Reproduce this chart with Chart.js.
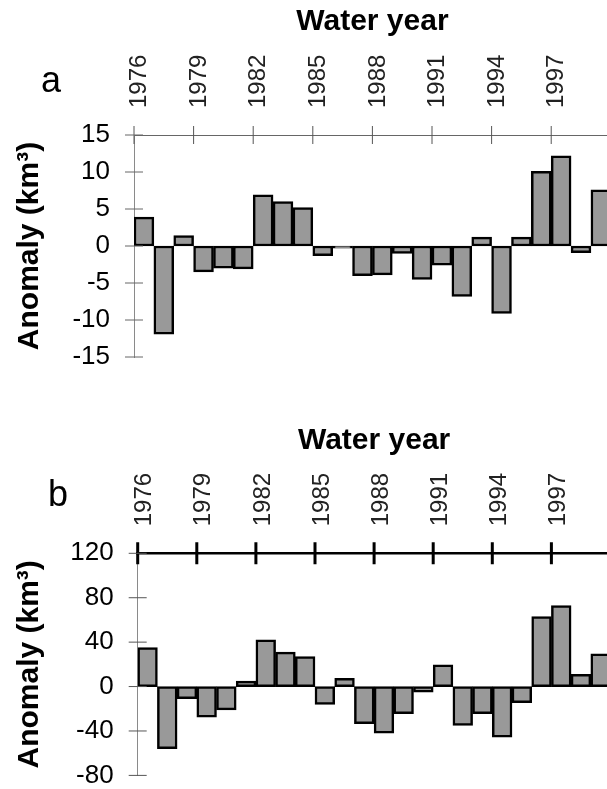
<!DOCTYPE html>
<html>
<head>
<meta charset="utf-8">
<script src="https://cdn.jsdelivr.net/npm/chart.js@4.4.1/dist/chart.umd.min.js"></script>
<style>
  html, body { margin: 0; padding: 0; background: #fff; width: 607px; height: 789px; overflow: hidden; }
  .wrap { position: relative; width: 607px; height: 789px; overflow: hidden; }
  canvas { position: absolute; left: 0; }
  .panel { position: absolute; font-family: "Liberation Sans", Arial, sans-serif; font-size: 36px; line-height: 1; color: #000; }
</style>
</head>
<body>
<div class="wrap">
  <canvas id="chartA" width="620" height="400" style="top:0;width:620px;height:400px"></canvas>
  <canvas id="chartB" width="620" height="407" style="top:400px;width:620px;height:407px"></canvas>
  <div class="panel" style="left:41px;top:62px">a</div>
  <div class="panel" style="left:48px;top:476px">b</div>
</div>
<script>
// Годы (категории)
const years = ['1976', '1977', '1978', '1979', '1980', '1981', '1982', '1983', '1984', '1985', '1986', '1987',
               '1988', '1989', '1990', '1991', '1992', '1993', '1994', '1995', '1996', '1997', '1998', '1999'];
// Подписанные годы на верхней оси
const labelledYears = ['1976', '1979', '1982', '1985', '1988', '1991', '1994', '1997'];

// Панель a
const anomalyA = [3.9, -11.9, 1.4, -3.5, -3.0, -3.1, 6.9, 6.0, 5.2, -1.3, -0.3, -4.0,
                  -3.9, -1.0, -4.5, -2.6, -6.8, 1.2, -9.1, 1.2, 10.1, 12.2, -0.9, 7.6];
const yTicksA = [-15, -10, -5, 0, 5, 10, 15];

// Панель b
const anomalyB = [35, -56, -11, -27.5, -21, 5, 42, 31, 27, -16, 7.5, -33.5,
                  -42, -24.5, -5, 19.5, -35, -24.5, -45.5, -14.5, 63, 73, 11, 29.5];
const yTicksB = [-80, -40, 0, 40, 80, 120];

const FONT = '"Liberation Sans", Arial, sans-serif';

// Засечки, пересекающие оси
const crossTicks = {
    id: 'crossTicks',
    afterDatasetsDraw(chart, args, opts) {
        const ctx = chart.ctx;
        const xs = chart.scales.x;
        const ys = chart.scales.y;
        const step = xs.getPixelForValue(1) - xs.getPixelForValue(0);
        ctx.save();
        ctx.strokeStyle = opts.xColor;
        ctx.lineWidth = opts.xWidth;
        ctx.beginPath();
        years.forEach((yr, i) => {
            if (!labelledYears.includes(yr)) return;
            const px = xs.getPixelForValue(i) - step / 2;
            ctx.moveTo(px, ys.top - opts.xLen);
            ctx.lineTo(px, ys.top + opts.xLen);
        });
        ctx.stroke();
        ctx.strokeStyle = opts.yColor;
        ctx.lineWidth = opts.yWidth;
        ctx.beginPath();
        ys.ticks.forEach(t => {
            const py = ys.getPixelForValue(t.value);
            ctx.moveTo(xs.left - opts.yLen, py);
            ctx.lineTo(xs.left + opts.yLen, py);
        });
        ctx.stroke();
        ctx.restore();
    }
};

function makeChart(id, values, yTicks, cfg) {
    return new Chart(document.getElementById(id), {
        type: 'bar',
        data: {
            labels: years,
            datasets: [{
                data: values,
                backgroundColor: '#999999',
                borderColor: '#000',
                borderWidth: 2.5,
                borderSkipped: false,
                barPercentage: 1,
                categoryPercentage: 1
            }]
        },
        plugins: [crossTicks],
        options: {
            responsive: false,
            animation: false,
            devicePixelRatio: 1,
            layout: { padding: cfg.padding },
            plugins: {
                legend: { display: false },
                tooltip: { enabled: false },
                crossTicks: cfg.ticks
            },
            scales: {
                x: {
                    position: 'top',
                    afterFit: s => { s.height = 135; },
                    grid: { display: false },
                    border: { display: true, color: cfg.xAxisColor, width: cfg.xAxisWidth },
                    ticks: {
                        autoSkip: false,
                        minRotation: 90,
                        maxRotation: 90,
                        padding: 19,
                        labelOffset: cfg.labelOffset,
                        color: '#222',
                        font: { family: FONT, size: 24 },
                        callback: (v, i) => labelledYears.includes(years[i]) ? years[i] : ''
                    },
                    title: {
                        display: true,
                        text: 'Water year',
                        color: '#000',
                        font: { family: FONT, size: 30, weight: 'bold' },
                        padding: { top: 4, bottom: 0 }
                    }
                },
                y: {
                    min: yTicks[0],
                    max: yTicks[yTicks.length - 1],
                    afterFit: s => { s.width = cfg.yWidth; },
                    grid: { display: false },
                    border: { display: true, color: '#8a8a8a', width: 1 },
                    ticks: {
                        stepSize: yTicks[1] - yTicks[0],
                        padding: 16,
                        color: '#000',
                        font: { family: FONT, size: 26 }
                    },
                    title: {
                        display: true,
                        text: 'Anomaly (km³)',
                        color: '#000',
                        font: { family: FONT, size: 30, weight: 'bold' },
                        padding: { top: 12, bottom: 0 }
                    }
                }
            }
        }
    });
}

makeChart('chartA', anomalyA, yTicksA, {
    padding: { left: 0, top: 0, right: 6, bottom: 43 },
    yWidth: 134,
    labelOffset: 24.5,
    xAxisColor: '#666',
    xAxisWidth: 1,
    ticks: { xColor: '#555', xWidth: 1, xLen: 9, yColor: '#666', yWidth: 1, yLen: 9 }
});

// Канвас b выходит за нижний край окна: нижний отступ оси y занят подписью "-80"
makeChart('chartB', anomalyB, yTicksB, {
    padding: { left: 0, top: 18.3, right: 9.5, bottom: 14 },
    yWidth: 137.7,
    labelOffset: 26,
    xAxisColor: '#000',
    xAxisWidth: 2.5,
    ticks: { xColor: '#000', xWidth: 3, xLen: 11, yColor: '#555', yWidth: 1, yLen: 9 }
});
</script>
</body>
</html>
